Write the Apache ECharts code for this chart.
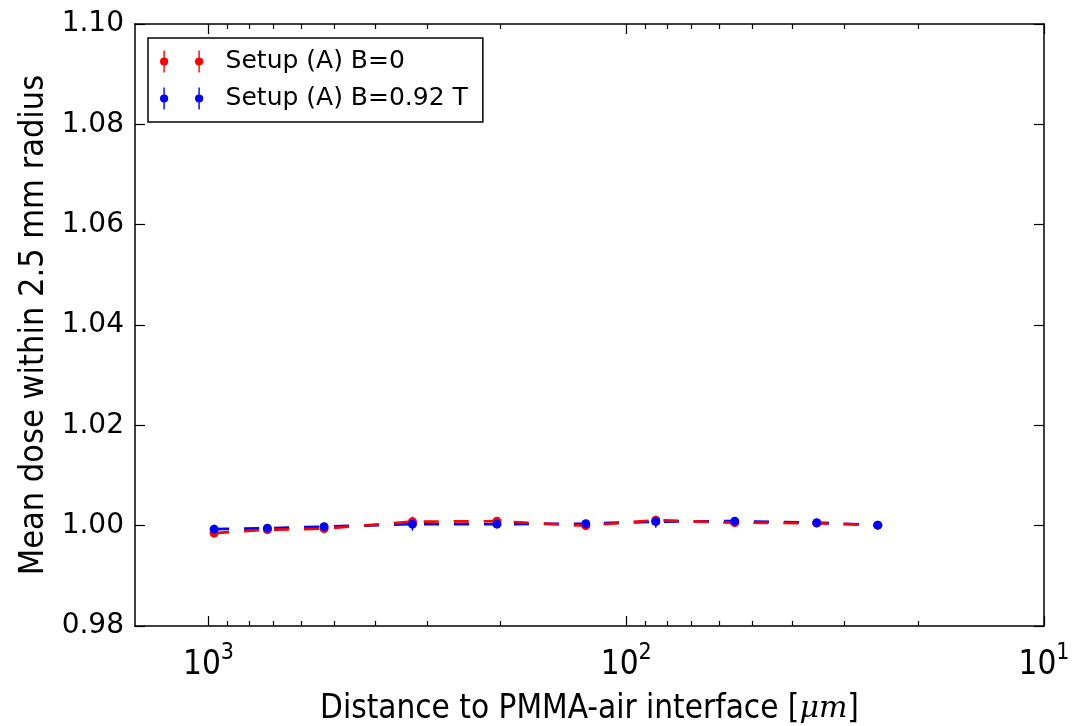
<!DOCTYPE html>
<html>
<head>
<meta charset="utf-8">
<script src="https://cdn.jsdelivr.net/npm/echarts@6/dist/echarts.min.js"></script>
<style>
  html, body { margin: 0; padding: 0; background: #fff; }
  #chart { width: 1075px; height: 726px; }
</style>
</head>
<body>
<div id="chart"></div>
<script>
// Distance to the PMMA-air interface (micrometres)
const distances = [970, 723, 529, 325, 204, 125, 85, 55, 35, 25];

// Mean dose within 2.5 mm radius, no magnetic field
const doseB0 = [0.9985, 0.9992, 0.9994, 1.0008, 1.0009, 1.0000, 1.0011, 1.0006, 1.0005, 1.0001];
const errB0 = [0.0008, 0.0006, 0.0006, 0.0010, 0.0008, 0.0008, 0.0008, 0.0006, 0.0005, 0.0005];

// Mean dose within 2.5 mm radius, B = 0.92 T
const doseB092 = [0.9993, 0.9995, 0.9998, 1.0003, 1.0003, 1.0004, 1.0008, 1.0009, 1.0006, 1.0001];
const errB092 = [0.0009, 0.0006, 0.0006, 0.0013, 0.0006, 0.0006, 0.0012, 0.0006, 0.0005, 0.0005];

const yTicks = [0.98, 1.00, 1.02, 1.04, 1.06, 1.08, 1.10];
const xMajorTicks = [10, 100, 1000];
const xMinorTicks = [20, 30, 40, 50, 60, 70, 80, 90, 200, 300, 400, 500, 600, 700, 800, 900];

const RED = '#ff0000';
const BLUE = '#0000ff';
const NAME_B0 = 'Setup (A) B=0';
const NAME_B092 = 'Setup (A) B=0.92 T';

// legend glyph: two markers, each with a vertical error bar
const legendIcon = 'path://' +
  'M3.8 0 h1.4 v22 h-1.4 Z ' +
  'M0.4 11 a4.1 4.1 0 1 1 8.2 0 a4.1 4.1 0 1 1 -8.2 0 Z ' +
  'M38.8 0 h1.4 v22 h-1.4 Z ' +
  'M35.4 11 a4.1 4.1 0 1 1 8.2 0 a4.1 4.1 0 1 1 -8.2 0 Z';

const pairs = (xs, ys) => xs.map((x, i) => [x, ys[i]]);
const triples = (xs, ys, es) => xs.map((x, i) => [x, ys[i], es[i]]);

function errorBarSeries(name, color, data) {
  return {
    name: name + ' err',
    type: 'custom',
    xAxisIndex: 0,
    yAxisIndex: 0,
    z: 3,
    silent: true,
    data: data,
    encode: { x: 0, y: [1] },
    renderItem: function (params, api) {
      const x = api.value(0), y = api.value(1), e = api.value(2);
      const lo = api.coord([x, y - e]);
      const hi = api.coord([x, y + e]);
      return {
        type: 'line',
        shape: { x1: lo[0], y1: lo[1], x2: hi[0], y2: hi[1] },
        style: { stroke: color, lineWidth: 1.5 }
      };
    }
  };
}

function xAxisDef(position, ticks, len, withLine, withLabels) {
  return {
    type: 'log',
    logBase: 10,
    min: 10,
    max: 1500,
    inverse: true,
    position: position,
    gridIndex: 0,
    axisLine: { show: withLine, onZero: false, lineStyle: { color: '#000', width: 1.5 } },
    axisTick: { show: true, inside: true, length: len, customValues: ticks,
                lineStyle: { color: '#000', width: 1.2 } },
    axisLabel: withLabels ? {
      show: true,
      customValues: xMajorTicks,
      margin: 16,
      formatter: function (v) {
        const p = Math.round(Math.log10(v));
        return '{b|10}{s|' + p + '}';
      },
      rich: {
        b: { fontFamily: 'DejaVu Sans Condensed', fontSize: 33, color: '#000', verticalAlign: 'bottom', lineHeight: 40 },
        s: { fontFamily: 'DejaVu Sans Condensed', fontSize: 23, color: '#000', verticalAlign: 'top', lineHeight: 40 }
      }
    } : { show: false },
    splitLine: { show: false },
    minorTick: { show: false }
  };
}

function yAxisDef(position, withLabels) {
  return {
    type: 'value',
    min: 0.98,
    max: 1.10,
    interval: 0.02,
    position: position,
    axisLine: { show: true, onZero: false, lineStyle: { color: '#000', width: 1.5 } },
    axisTick: { show: true, inside: true, length: 10, lineStyle: { color: '#000', width: 1.2 } },
    axisLabel: withLabels ? {
      show: true,
      margin: 11,
      fontFamily: 'DejaVu Sans',
      fontSize: 28,
      color: '#000',
      formatter: v => v.toFixed(2)
    } : { show: false },
    splitLine: { show: false },
    name: withLabels ? 'Mean dose within 2.5 mm radius' : '',
    nameLocation: 'middle',
    nameGap: 84,
    nameTextStyle: { fontFamily: 'DejaVu Sans Condensed', fontSize: 34, color: '#000' }
  };
}

const xBottom = xAxisDef('bottom', xMajorTicks, 10, true, true);
xBottom.name = 'Distance to PMMA-air interface [{i|μm}]';
xBottom.nameLocation = 'middle';
xBottom.nameGap = 66;
xBottom.nameTextStyle = {
  fontFamily: 'DejaVu Sans Condensed', fontSize: 33, color: '#000', lineHeight: 34,
  rich: { i: { fontFamily: 'DejaVu Serif', fontStyle: 'italic', fontSize: 30, color: '#000', lineHeight: 34 } }
};

const option = {
  backgroundColor: '#fff',
  animation: false,
  grid: { left: 135, right: 31, top: 24, bottom: 100, containLabel: false, outerBoundsMode: 'none' },
  legend: {
    orient: 'vertical',
    left: 148,
    top: 38,
    data: [NAME_B0, NAME_B092],
    icon: legendIcon,
    itemWidth: 44,
    itemHeight: 22,
    itemGap: 12,
    padding: [11, 15, 11, 12],
    backgroundColor: '#fff',
    borderColor: '#000',
    borderWidth: 1.5,
    borderRadius: 0,
    selectedMode: false,
    textStyle: { fontFamily: 'DejaVu Sans', fontSize: 25, color: '#000', padding: [0, 0, 0, 17] }
  },
  xAxis: [
    xBottom,
    xAxisDef('bottom', xMinorTicks, 5, false, false),
    xAxisDef('top', xMajorTicks, 10, true, false),
    xAxisDef('top', xMinorTicks, 5, false, false)
  ],
  yAxis: [yAxisDef('left', true), yAxisDef('right', false)],
  series: [
    {
      name: NAME_B092 + ' line', type: 'line', data: pairs(distances, doseB092),
      showSymbol: false, symbol: 'none', z: 2, silent: true,
      lineStyle: { color: BLUE, width: 2.7, type: [15, 15] }
    },
    {
      name: NAME_B0 + ' line', type: 'line', data: pairs(distances, doseB0),
      showSymbol: false, symbol: 'none', z: 2, silent: true,
      lineStyle: { color: RED, width: 2.7, type: [15, 15] }
    },
    errorBarSeries(NAME_B0, RED, triples(distances, doseB0, errB0)),
    errorBarSeries(NAME_B092, BLUE, triples(distances, doseB092, errB092)),
    {
      name: NAME_B0, type: 'scatter', data: pairs(distances, doseB0),
      symbol: 'circle', symbolSize: 9, z: 4, itemStyle: { color: RED, opacity: 1 }
    },
    {
      name: NAME_B092, type: 'scatter', data: pairs(distances, doseB092),
      symbol: 'circle', symbolSize: 9, z: 5, itemStyle: { color: BLUE, opacity: 1 }
    }
  ]
};

const chart = echarts.init(document.getElementById('chart'), null, { renderer: 'canvas' });
chart.setOption(option);
</script>
</body>
</html>
